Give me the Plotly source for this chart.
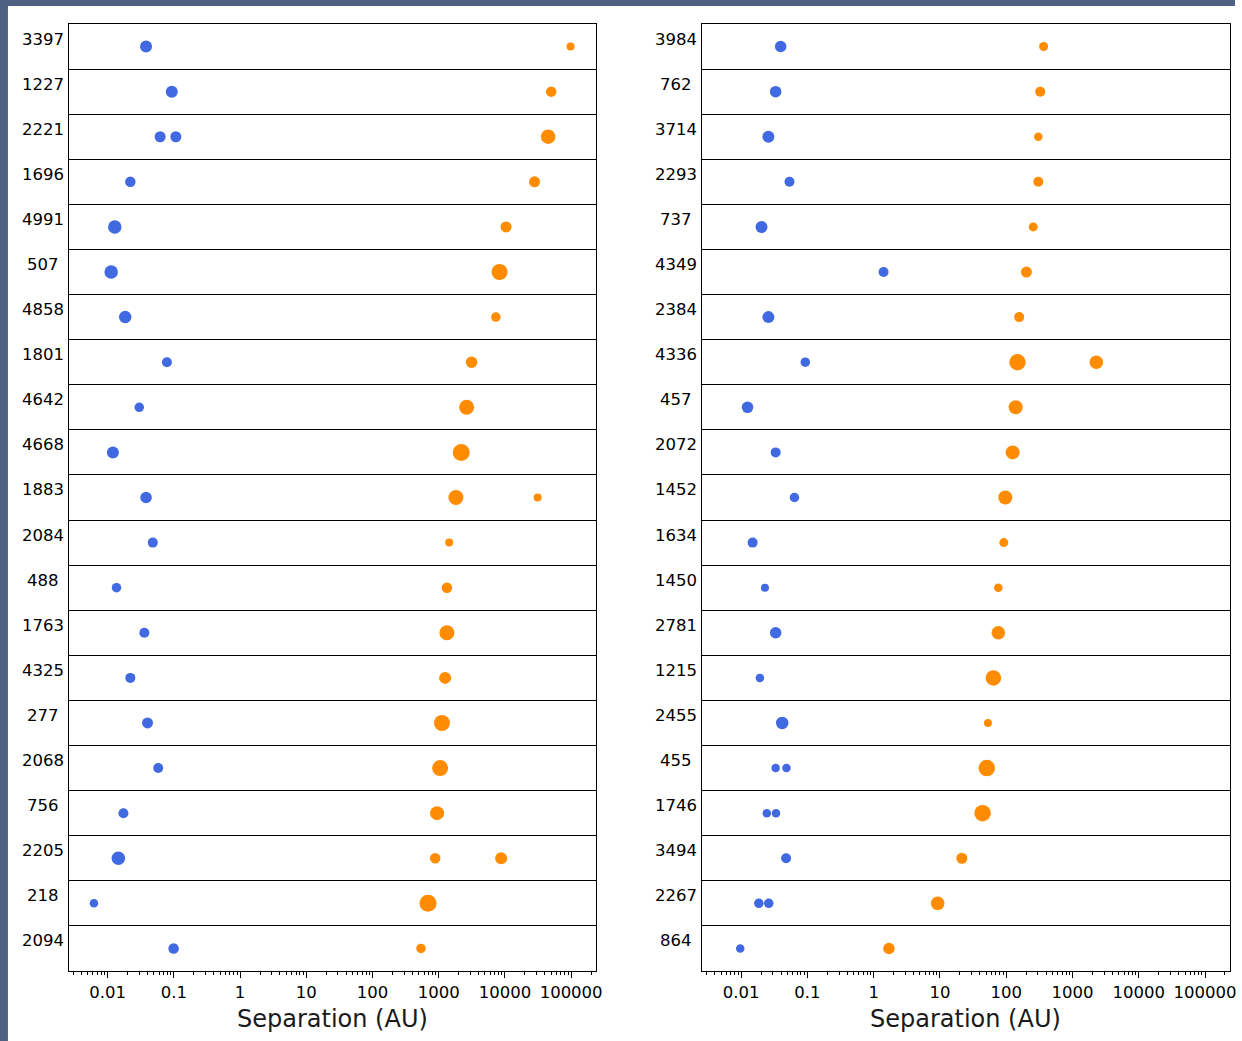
import plotly.graph_objects as go

# ---------------- data ----------------
labels_left = ["3397", "1227", "2221", "1696", "4991", "507", "4858", "1801", "4642", "4668",
               "1883", "2084", "488", "1763", "4325", "277", "2068", "756", "2205", "218", "2094"]
planets_left = [[0.038], [0.093], [0.062, 0.107], [0.022], [0.0128], [0.0113], [0.0184], [0.0785],
                [0.030], [0.012], [0.038], [0.048], [0.0136], [0.0358], [0.022], [0.040], [0.058],
                [0.0173], [0.0145], [0.0062], [0.099]]
planet_d_left = [[12], [12], [11, 11], [10.5], [13.5], [13.5], [12.5], [10], [9.5], [12], [11.5],
                 [10], [9.5], [10], [10], [11], [10], [10], [13.5], [8.5], [10.5]]
companions_left = [[98000], [50000], [45000], [28000], [10400], [8300], [7300], [3140], [2640], [2190],
                   [1820, 31200], [1440], [1330], [1330], [1250], [1120], [1050], [945], [885, 8770],
                   [690], [540]]
companion_d_left = [[8], [10.5], [14.5], [11], [11], [16], [9.5], [11.5], [15], [17], [15, 8], [8],
                    [10.5], [15], [12], [16], [16], [14], [10.5, 12], [17], [9.5]]

labels_right = ["3984", "762", "3714", "2293", "737", "4349", "2384", "4336", "457", "2072",
                "1452", "1634", "1450", "2781", "1215", "2455", "455", "1746", "3494", "2267", "864"]
planets_right = [[0.0395], [0.0332], [0.0258], [0.0537], [0.0203], [1.41], [0.0258], [0.093], [0.0125],
                 [0.0332], [0.0638], [0.0149], [0.0229], [0.0332], [0.0192], [0.0417], [0.0332, 0.0483],
                 [0.0244, 0.0336], [0.0477], [0.0185, 0.0261], [0.0097]]
planet_d_right = [[11.5], [11.5], [12], [10], [12], [10], [12], [9.5], [11.5], [10], [9.5], [10], [8],
                  [11.5], [8.5], [12.5], [8.5, 8.5], [8.5, 8.5], [10], [9.5, 9.5], [8.5]]
companions_right = [[367], [326], [305], [305], [256], [202], [157], [148, 2290], [139], [125], [97],
                    [92], [76], [76], [64], [53], [51], [44], [21.4], [9.25], [1.70]]
companion_d_right = [[9], [10], [8.5], [10], [9], [11], [10], [16.5, 13.5], [14], [14], [14], [9],
                     [8.5], [13.5], [15.5], [8], [16.5], [16.5], [11], [13.5], [11.5]]

tick_values = [0.01, 0.1, 1, 10, 100, 1000, 10000, 100000]
tick_labels = ["0.01", "0.1", "1", "10", "100", "1000", "10000", "100000"]
x_title = "Separation (AU)"

# ---------------- layout helpers ----------------
W, H = 1242, 1041
TOP, BOTTOM = 24, 971
N = len(labels_left)
ROW_PX = (BOTTOM - TOP) / N
LABEL_SHIFT = 7.5 / ROW_PX
XRANGE = [-2.59, 5.37]
BLUE = "#4169E1"
ORANGE = "#FF8C00"
FONT = "DejaVu Sans"


def fx(p):
    return p / W


def fy(p):
    return 1 - p / H


panels = [
    dict(labels=labels_left, planets=planets_left, pd=planet_d_left, comps=companions_left,
         cd=companion_d_left, xa="x", ya="y", x0=69, x1=599, lab_cx=43.5),
    dict(labels=labels_right, planets=planets_right, pd=planet_d_right, comps=companions_right,
         cd=companion_d_right, xa="x2", ya="y2", x0=706, x1=1236.5, lab_cx=680),
]

fig = go.Figure()
annotations = []
layout_axes = {}

for k, p in enumerate(panels):
    for seps, diams, color in ((p["planets"], p["pd"], BLUE), (p["comps"], p["cd"], ORANGE)):
        xs, ys, ss = [], [], []
        for i, (row_s, row_d) in enumerate(zip(seps, diams)):
            yc = N - i - 0.5
            for s, d in zip(row_s, row_d):
                xs.append(s)
                ys.append(yc)
                ss.append(d)
        fig.add_trace(go.Scatter(x=xs, y=ys, mode="markers", xaxis=p["xa"], yaxis=p["ya"],
                                 marker=dict(color=color, size=ss, line=dict(width=0), opacity=1),
                                 showlegend=False, hoverinfo="skip"))
    for i, lab in enumerate(p["labels"]):
        annotations.append(dict(x=fx(p["lab_cx"]), xref="paper", y=N - i - 0.5 + LABEL_SHIFT,
                                yref=p["ya"], text=lab, showarrow=False, xanchor="center",
                                yanchor="middle", font=dict(family=FONT, size=16.5, color="black")))
    annotations.append(dict(x=fx((p["x0"] + p["x1"]) / 2), xref="paper", y=fy(1018.5), yref="paper",
                            text=x_title, showarrow=False, xanchor="center", yanchor="middle",
                            font=dict(family=FONT, size=24, color="#1a1a1a")))
    sfx = "" if k == 0 else "2"
    layout_axes["xaxis" + sfx] = dict(
        domain=[fx(p["x0"]), fx(p["x1"])], anchor=p["ya"], type="log", range=XRANGE,
        tickmode="array", tickvals=tick_values, ticktext=tick_labels,
        ticks="outside", ticklen=6, tickwidth=1.3, tickcolor="black",
        showline=True, linecolor="black", linewidth=1.3, mirror=True,
        showgrid=False, zeroline=False,
        tickfont=dict(family=FONT, size=16.5, color="black"),
        minor=dict(ticks="outside", ticklen=3.3, tickwidth=1, tickcolor="black", dtick="D1",
                   showgrid=False),
    )
    layout_axes["yaxis" + sfx] = dict(
        domain=[fy(BOTTOM), fy(TOP)], anchor=p["xa"], range=[0, N],
        tickmode="array", tickvals=list(range(1, N)), showticklabels=False, ticks="",
        showgrid=True, gridcolor="black", gridwidth=1.3,
        showline=True, linecolor="black", linewidth=1.3, mirror=True, zeroline=False,
    )

shapes = [
    dict(type="rect", xref="paper", yref="paper", x0=0, x1=1, y0=fy(6), y1=1,
         fillcolor="#4e6182", line=dict(width=0), layer="above"),
    dict(type="rect", xref="paper", yref="paper", x0=0, x1=fx(8), y0=0, y1=1,
         fillcolor="#4e6182", line=dict(width=0), layer="above"),
]

fig.update_layout(width=W, height=H, margin=dict(l=0, r=0, t=0, b=0),
                  paper_bgcolor="white", plot_bgcolor="white",
                  annotations=annotations, shapes=shapes, **layout_axes)

fig.write_html("out.html", config={"displayModeBar": False})
